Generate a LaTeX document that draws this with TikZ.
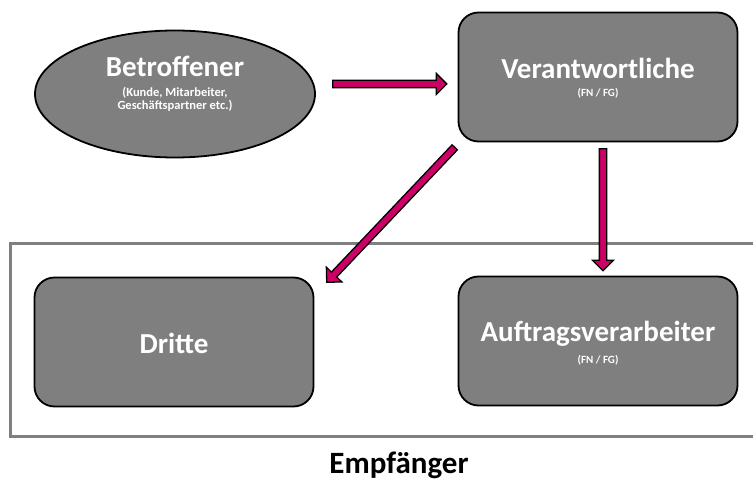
\documentclass[tikz,border=0pt]{standalone}
\usepackage{fontspec}
\setmainfont{Carlito}
\usetikzlibrary{shapes.geometric,shapes.arrows}
\definecolor{boxgray}{HTML}{7F7F7F}
\definecolor{framegray}{HTML}{808080}
\definecolor{arrowmag}{HTML}{CC0066}
\begin{document}
\begin{tikzpicture}[x=1pt,y=-1pt,
  every node/.style={inner sep=0pt},
  box/.style={draw=black, line width=1.8pt, fill=boxgray, rounded corners=20pt,
    minimum width=279pt, minimum height=129pt, text=white, font=\bfseries, align=center},
  oval/.style={ellipse, draw=black, line width=1.8pt, fill=boxgray,
    minimum width=280pt, minimum height=127pt, text=white, font=\bfseries, align=center},
  fatarrow/.style={single arrow, draw=black, line width=1.3pt, fill=arrowmag,
    inner sep=3pt, minimum width=20pt, single arrow head extend=7pt,
    sloped, allow upside down, midway},
  big/.style={font=\fontsize{29}{32}\selectfont\bfseries},
  small/.style={font=\fontsize{12.5}{13}\selectfont\bfseries},
  tiny/.style={font=\fontsize{11}{12}\selectfont\bfseries}]
\useasboundingbox (0,0) rectangle (753,486);
% frame of the recipients
\draw[framegray, line width=3pt] (10,244) rectangle (770,437);
% nodes
\node[oval] (bet) at (175,94) {};
\node[big, text=white] (bett) at (175,66) {Betroffener};
\node[small, text=white, align=center] (bets) at (175,99) {(Kunde, Mitarbeiter,\\Geschäftspartner etc.)};
\node[box] (ver) at (598,77) {};
\node[big, text=white] (vert) at (598,68) {Verantwortliche};
\node[tiny, text=white] (vers) at (598,93) {(FN / FG)};
\node[box] (dri) at (174,342) {};
\node[big, text=white] (drit) at (174,343) {Dritte};
\node[box] (auf) at (598,341) {};
\node[big, text=white] (auft) at (598,334) {Auftragsverarbeiter};
\node[tiny, text=white] (aufs) at (598,360) {(FN / FG)};
\node[font=\fontsize{31}{34}\selectfont\bfseries] (emp) at (399,465) {Empfänger};
% connector end points
\coordinate (h1) at (331,84);
\coordinate (h2) at (445,84);
\coordinate (d1) at (456,146);
\coordinate (d2) at (328,281);
\coordinate (v1) at (603,147);
\coordinate (v2) at (603,269);
% arrows
\path (h1) -- (h2) node[fatarrow, minimum height=114pt] (a1) {};
\path (d1) -- (d2) node[fatarrow, minimum height=186pt] (a2) {};
\path (v1) -- (v2) node[fatarrow, minimum height=122pt] (a3) {};
\end{tikzpicture}
\end{document}
